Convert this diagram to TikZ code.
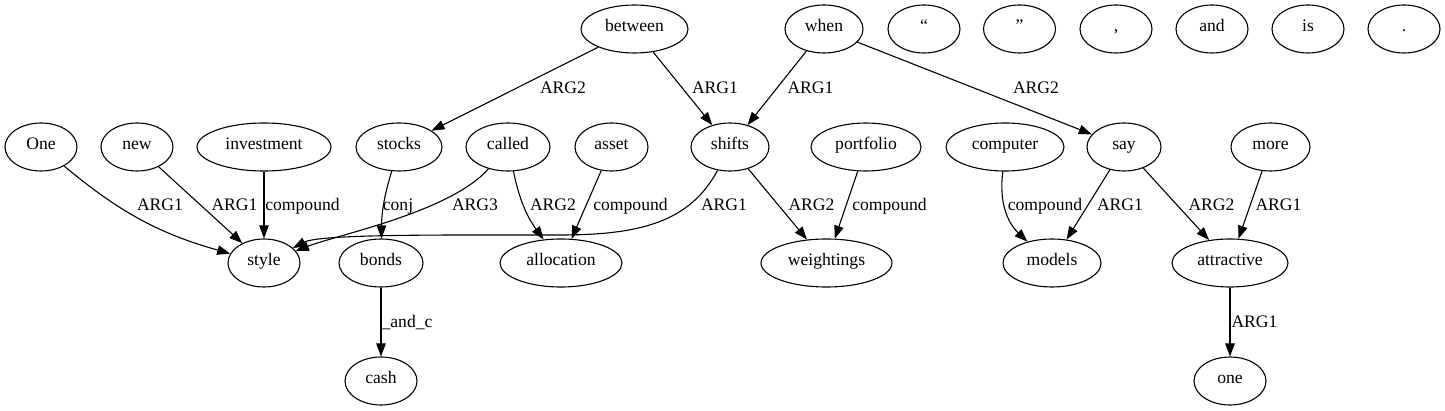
\documentclass[tikz,border=0pt]{standalone}
\usepackage{fontspec}
\setmainfont{Liberation Serif}
\usepackage{tikz}
\usetikzlibrary{shapes.geometric, arrows.meta, positioning}
\newcommand{\graphfont}{\fontsize{17.6}{20}\selectfont}
\tikzstyle{word} = [ellipse, draw=black, line width=1.1pt, minimum width=72pt, minimum height=48pt, inner sep=0pt, text height=1.5ex, text depth=.25ex, font=\graphfont]
\tikzstyle{lbl} = [inner sep=0pt, anchor=base, font=\graphfont]
\tikzstyle{arc} = [draw, line width=1.1pt, -{Triangle[length=13pt, width=9.5pt]}]

\begin{document}
\begin{tikzpicture}[x=1pt, y=-1pt]
    \path[use as bounding box, fill=white] (0,0) rectangle (1445,411);
    % Nodes
    \node [word, minimum width=107pt] (between) at (634.5,29) {between};
    \node [word, minimum width=78pt] (when) at (824,29) {when};
    \node [word] (lquote) at (924,29) {“};
    \node [word] (rquote) at (1019.5,29) {”};
    \node [word] (comma) at (1116,29) {,};
    \node [word] (and) at (1212,29) {and};
    \node [word] (is) at (1308,29) {is};
    \node [word] (period) at (1404,29) {.};

    \node [word] (One) at (41,147) {One};
    \node [word] (new) at (137,147) {new};
    \node [word, minimum width=134pt] (investment) at (264,147) {investment};
    \node [word, minimum width=86pt] (stocks) at (399,147) {stocks};
    \node [word, minimum width=84pt] (called) at (508,147) {called};
    \node [word, minimum width=73pt] (asset) at (611.5,147) {asset};
    \node [word, minimum width=78pt] (shifts) at (730,147) {shifts};
    \node [word, minimum width=110pt] (portfolio) at (866,147) {portfolio};
    \node [word, minimum width=118pt] (computer) at (1005,147) {computer};
    \node [word, minimum width=74pt] (say) at (1124,147) {say};
    \node [word, minimum width=79pt] (more) at (1270.5,147) {more};

    \node [word, below of=investment, node distance=116pt] (style) {style};
    \node [word, minimum width=84pt] (bonds) at (381,263) {bonds};
    \node [word, minimum width=122pt] (allocation) at (561,263) {allocation};
    \node [word, minimum width=131pt] (weightings) at (826.5,263) {weightings};
    \node [word, minimum width=98pt] (models) at (1052,263) {models};
    \node [word, minimum width=116pt] (attractive) at (1230,263) {attractive};

    \node [word, below of=bonds, node distance=118pt] (cash) {cash};
    \node [word, below of=attractive, node distance=118pt] (one) {one};

    % Edges
    \path [arc] (between) -- (stocks) node [lbl] at (563,94) {ARG2};
    \path [arc] (between) -- (shifts) node [lbl] at (715,94) {ARG1};
    \path [arc] (when) -- (shifts) node [lbl] at (810.5,94) {ARG1};
    \path [arc] (when) -- (say) node [lbl] at (1036,94) {ARG2};

    \path [arc] (One) to[bend right=12] (style) node [lbl] at (160,210.5) {ARG1};
    \path [arc] (new) -- (style) node [lbl] at (234.5,210.5) {ARG1};
    \path [arc] (investment) -- (style) node [lbl] at (302.5,210.5) {compound};
    \path [arc] (stocks) to[bend right=8] (bonds) node [lbl] at (398,210.5) {conj};
    \path [arc] (called) .. controls (450,212) and (340,234) .. (style) node [lbl] at (475,210.5) {ARG3};
    \path [arc] (called) to[bend right=12] (allocation) node [lbl] at (553,210.5) {ARG2};
    \path [arc] (asset) -- (allocation) node [lbl] at (630.5,210.5) {compound};
    \path [arc] (shifts) .. controls (690,222) and (640,235) .. (560,235)
        .. controls (440,235) and (320,234) .. (style) node [lbl] at (724,210.5) {ARG1};
    \path [arc] (shifts) -- (weightings) node [lbl] at (811.5,210.5) {ARG2};
    \path [arc] (portfolio) -- (weightings) node [lbl] at (889.5,210.5) {compound};
    \path [arc] (computer) to[bend right=27] (models) node [lbl] at (1045,210.5) {compound};
    \path [arc] (say) -- (models) node [lbl] at (1120,210.5) {ARG1};
    \path [arc] (say) -- (attractive) node [lbl] at (1211.5,210.5) {ARG2};
    \path [arc] (more) -- (attractive) node [lbl] at (1278.5,210.5) {ARG1};

    \path [arc] (bonds) -- (cash) node [lbl] at (407,328) {\_and\_c};
    \path [arc] (attractive) -- (one) node [lbl] at (1254.5,328) {ARG1};
\end{tikzpicture}
\end{document}
